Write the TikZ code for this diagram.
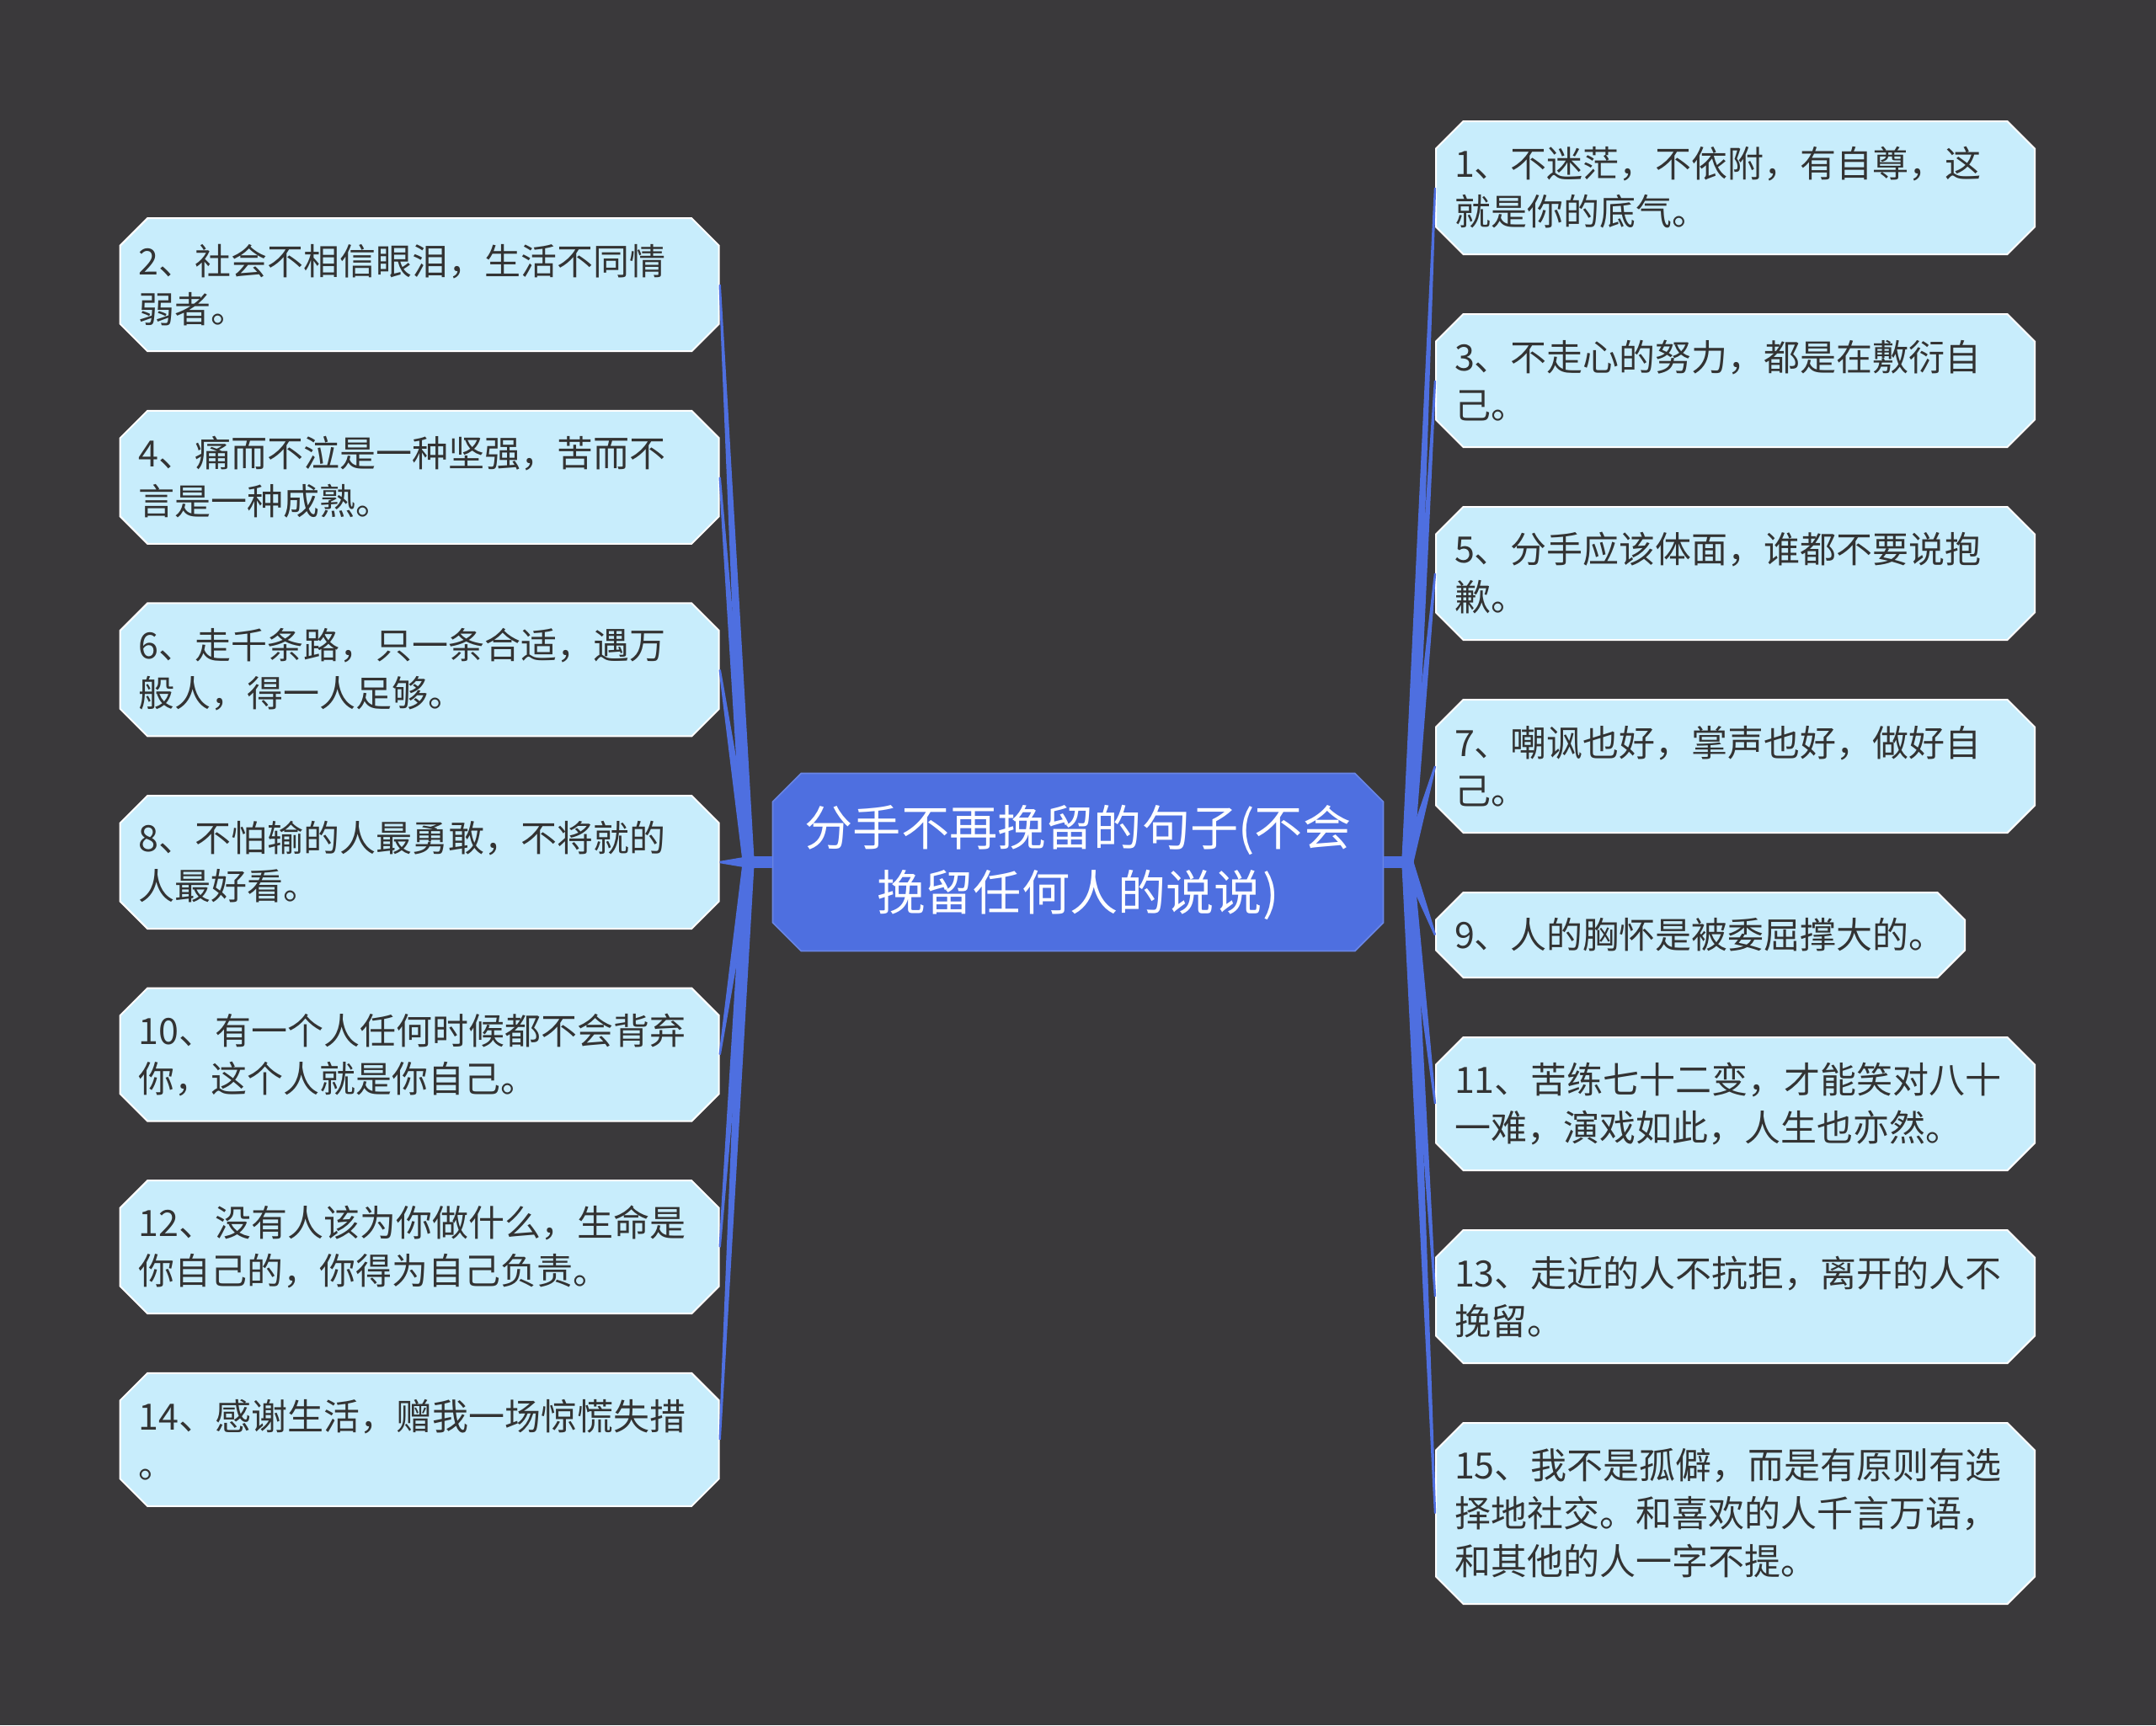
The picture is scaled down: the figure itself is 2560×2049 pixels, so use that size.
\documentclass[tikz,border=0pt]{standalone}
\usepackage{fontspec}
\setmainfont{Noto Sans CJK SC}
\usetikzlibrary{positioning,calc,shapes.misc}
\definecolor{canvasgray}{RGB}{58,57,59}
\definecolor{rootblue}{RGB}{78,111,224}
\definecolor{leafcyan}{RGB}{200,237,252}
\definecolor{inkgray}{RGB}{51,51,51}

\begin{document}
\begin{tikzpicture}[x=0.25pt,y=-0.25pt,
    rootbox/.style={chamfered rectangle,chamfered rectangle xsep=4.8pt,
                    fill=rootblue,draw=rootblue!85!white,line width=0.4pt,text=white,
                    font=\fontsize{14.3pt}{19.25pt}\selectfont,align=center,
                    inner sep=1pt,minimum width=181.25pt,minimum height=52.75pt},
    leafbox/.style={chamfered rectangle,chamfered rectangle xsep=4.5pt,
                    fill=leafcyan,draw=white,line width=0.5pt,text=inkgray,
                    font=\fontsize{10.75pt}{14.25pt}\selectfont,align=left,
                    inner sep=0pt,text width=166.75pt,
                    minimum width=177.75pt,minimum height=39.5pt},
    shortleaf/.style={leafbox,text width=146pt,minimum width=157pt,minimum height=25.25pt},
    tallleaf/.style={leafbox,minimum height=53.75pt},
    twig/.style={fill=rootblue}
    ]
    \useasboundingbox (0,0) rectangle (2560,2049);
    \fill[canvasgray] (0,0) rectangle (2560,2049);
    %%% Hoofdonderwerp
    \node[rootbox] (root) at (1280,1024) {分手不再挽留的句子(不会\\挽留任何人的说说)};
    \coordinate (lhub) at ($(root.west)+(-28,0)$);
    \coordinate (rhub) at ($(root.east)+(28,0)$);
    %%% Linkerkolom
    \node[leafbox,left=15.5pt of root] (l8) {8、不怕输的人最勇敢，不将就的\\人最好看。};
    \node[leafbox,above=17.15pt of l8] (l6) {6、走千条路，只一条合适，遇万\\般人，得一人足够。};
    \node[leafbox,above=17.15pt of l6] (l4) {4、痛而不泣是一种坚强，苦而不\\言是一种成熟。};
    \node[leafbox,above=17.15pt of l4] (l2) {2、社会不相信眼泪，生活不同情\\弱者。};
    \node[leafbox,below=17.15pt of l8] (l10) {10、有一个人任何时候都不会背弃\\你，这个人就是你自己。};
    \node[leafbox,below=17.15pt of l10] (l12) {12、没有人该为你做什么，生命是\\你自己的，你得为自己负责。};
    \node[leafbox,below=17.15pt of l12] (l14) {14、感谢生活，赠我一场惊慌失措\\。};
    %%% Rechterkolom
    \node[leafbox,anchor=west] (r1) at (1704,223) {1、不迷茫，不依附，有自尊，这\\就是你的底气。};
    \node[leafbox,below=17.25pt of r1] (r3) {3、不走心的努力，都是在敷衍自\\己。};
    \node[leafbox,below=17.25pt of r3] (r5) {5、分手应该体面，谁都不要说抱\\歉。};
    \node[leafbox,below=17.25pt of r5] (r7) {7、嘲讽也好，掌声也好，做好自\\己。};
    \node[shortleaf,below=17.25pt of r7,xshift=-10.375pt] (r9) {9、人的胸怀是被委屈撑大的。};
    \node[leafbox,below=17.25pt of r9,xshift=10.375pt] (r11) {11、苦练七十二变，才能笑对八十\\一难，演戏如此，人生也亦然。};
    \node[leafbox,below=17.25pt of r11] (r13) {13、走近的人不抗拒，离开的人不\\挽留。};
    \node[tallleaf,below=17.25pt of r13] (r15) {15、我不是孤僻，而是有原则有选\\择地社交。和喜欢的人千言万语，\\和其他的人一字不提。};
    %%% Takken
    \draw[rootblue,line width=3.7pt] (root.west) -- (lhub) (root.east) -- (rhub);
    \foreach \kid in {l2,l4,l6,l8,l10,l12,l14}
        \fill[twig] ($(lhub)!1.75pt!90:(\kid.east)$) -- ($(\kid.east)!0.3pt!-90:(lhub)$)
            -- ($(\kid.east)!0.3pt!90:(lhub)$) -- ($(lhub)!1.75pt!-90:(\kid.east)$) -- cycle;
    \foreach \kid in {r1,r3,r5,r7,r9,r11,r13,r15}
        \fill[twig] ($(rhub)!1.75pt!90:(\kid.west)$) -- ($(\kid.west)!0.3pt!-90:(rhub)$)
            -- ($(\kid.west)!0.3pt!90:(rhub)$) -- ($(rhub)!1.75pt!-90:(\kid.west)$) -- cycle;
\end{tikzpicture}
\end{document}
